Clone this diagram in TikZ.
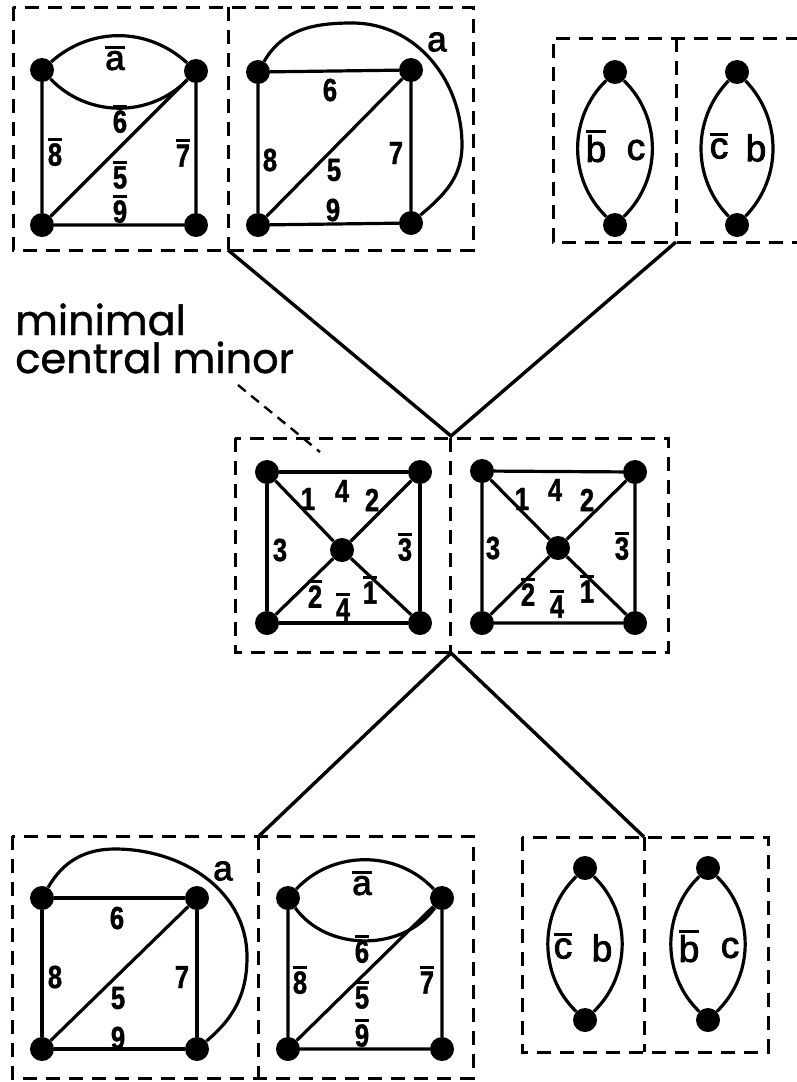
\documentclass[tikz,border=0pt]{standalone}
\usepackage{fontspec}
\setmainfont{Liberation Sans}
\newfontfamily\numfont{Liberation Sans Bold}[FakeStretch=0.8,FakeBold=1.2]
\newfontfamily\ltrfont{Liberation Sans}[FakeBold=2.5]
\newfontfamily\notefont{Poppins}[FakeBold=1]
% a label with a bar over it
\def\ob#1{\leavevmode\vbox{\hrule height 2.8pt\kern 2.4pt\hbox{#1}}}
\tikzset{
  dot/.style={circle,fill=black,inner sep=0pt,minimum size=24pt},
  edge/.style={line width=3.2pt},
  grp/.style={line width=3pt,dash pattern=on 14pt off 9pt},
  link/.style={line width=3.4pt},
  num/.style={font=\numfont\fontsize{32}{32}\selectfont,inner sep=0pt},
  ltr/.style={font=\ltrfont\fontsize{37}{37}\selectfont,inner sep=0pt},
  smltr/.style={font=\ltrfont\fontsize{35}{35}\selectfont,inner sep=0pt},
  note/.style={font=\notefont\fontsize{41.5}{41.5}\selectfont,inner sep=0pt,anchor=base west},
}
\begin{document}
\begin{tikzpicture}[x=1pt,y=-1pt]
\useasboundingbox (0,0) rectangle (796,1082);

% ---------- group boxes ----------
\draw[grp] (13,7) rectangle (473,250);
\draw[grp] (228,7) -- (228,250);
\draw[grp] (800,38) -- (553,38) -- (553,242) -- (800,242);
\draw[grp] (676,38) -- (676,242);
\draw[grp] (235,438) rectangle (668,652);
\draw[grp] (450,438) -- (450,652);
\draw[grp] (12,836) rectangle (473,1078);
\draw[grp] (258,836) -- (258,1078);
\draw[grp] (522,837) rectangle (768,1052);
\draw[grp] (644,837) -- (644,1052);

% ---------- tree connectors ----------
\coordinate (topL) at (228,250);
\coordinate (topR) at (676,242);
\coordinate (midT) at (451,436);
\coordinate (midB) at (451,653);
\coordinate (botL) at (259,836);
\coordinate (botR) at (644,837);
\draw[link,line join=miter] (topL) -- (midT) -- (topR);
\draw[link,line join=miter] (botL) -- (midB) -- (botR);

% ---------- note ----------
\node[note] (n1) at (15,335) {minimal};
\node[note] (n2) at (15,373) {central minor};
\coordinate (ptrA) at (238,385);
\coordinate (ptrB) at (320,452);
\draw[line width=2.4pt,dash pattern=on 10pt off 7pt] (ptrA) -- (ptrB);

% ---------- top row, graph A ----------
\node[dot] (a1) at (42,70) {};
\node[dot] (a2) at (196,71) {};
\node[dot] (a3) at (42,225) {};
\node[dot] (a4) at (196,225) {};
\draw[edge] (a1) to[bend left=42] (a2);
\draw[edge] (a1) to[bend right=46] (a2);
\draw[edge] (a1) -- (a3) -- (a4) -- (a2) -- (a3);
\node[smltr] (la1) at (115,58) {\ob{a}};
\node[num] (la2) at (120,119) {\ob{6}};
\node[num] (la3) at (55,152) {\ob{8}};
\node[num] (la4) at (120,175) {\ob{5}};
\node[num] (la5) at (120,209) {\ob{9}};
\node[num] (la6) at (183,153) {\ob{7}};

% ---------- top row, graph B ----------
\node[dot] (b1) at (258,72) {};
\node[dot] (b2) at (411,70) {};
\node[dot] (b3) at (258,225) {};
\node[dot] (b4) at (411,223) {};
\coordinate (bt) at (352,23);
\coordinate (br) at (462,145);
\draw[edge] (b1) -- (b2) -- (b4) -- (b3) -- (b1);
\draw[edge] (b3) -- (b2);
\draw[edge] (b1) to[out=60,in=180] (bt) to[out=0,in=90] (br) to[out=-90,in=40] (b4);
\node[smltr] (lb1) at (437,42) {a};
\node[num] (lb2) at (330,90) {6};
\node[num] (lb3) at (270,160) {8};
\node[num] (lb4) at (334,170) {5};
\node[num] (lb5) at (396,153) {7};
\node[num] (lb6) at (333,210) {9};

% ---------- top row, lenses ----------
\node[dot] (c1) at (615,72) {};
\node[dot] (c2) at (615,225) {};
\draw[edge] (c1) to[bend right=46] (c2);
\draw[edge] (c1) to[bend left=46] (c2);
\node[ltr] (lc1) at (596,146) {\ob{b}};
\node[ltr] (lc2) at (636,150) {c};
\node[dot] (d1) at (737,72) {};
\node[dot] (d2) at (737,225) {};
\draw[edge] (d1) to[bend right=44] (d2);
\draw[edge] (d1) to[bend left=44] (d2);
\node[ltr] (ld1) at (719,146) {\ob{c}};
\node[ltr] (ld2) at (756,148) {b};

% ---------- middle, left wheel ----------
\node[dot] (e1) at (267,472) {};
\node[dot] (e2) at (420,472) {};
\node[dot] (e3) at (267,623) {};
\node[dot] (e4) at (420,623) {};
\node[dot] (ec) at (342,550) {};
\draw[edge] (e1) -- (e2) -- (e4) -- (e3) -- (e1);
\draw[edge] (e1) -- (ec) -- (e4);
\draw[edge] (e2) -- (ec) -- (e3);
\node[num] (le1) at (308,499) {1};
\node[num] (le2) at (342,491) {4};
\node[num] (le3) at (372,500) {2};
\node[num] (le4) at (280,550) {3};
\node[num] (le5) at (405,547) {\ob{3}};
\node[num] (le6) at (315,594) {\ob{2}};
\node[num] (le7) at (343,607) {\ob{4}};
\node[num] (le8) at (370,590) {\ob{1}};

% ---------- middle, right wheel ----------
\node[dot] (f1) at (482,471) {};
\node[dot] (f2) at (635,472) {};
\node[dot] (f3) at (482,623) {};
\node[dot] (f4) at (635,623) {};
\node[dot] (fc) at (558,548) {};
\draw[edge] (f1) -- (f2) -- (f4) -- (f3) -- (f1);
\draw[edge] (f1) -- (fc) -- (f4);
\draw[edge] (f2) -- (fc) -- (f3);
\node[num] (lf1) at (522,499) {1};
\node[num] (lf2) at (555,490) {4};
\node[num] (lf3) at (587,500) {2};
\node[num] (lf4) at (493,548) {3};
\node[num] (lf5) at (622,546) {\ob{3}};
\node[num] (lf6) at (528,592) {\ob{2}};
\node[num] (lf7) at (557,604) {\ob{4}};
\node[num] (lf8) at (587,589) {\ob{1}};

% ---------- bottom row, graph B ----------
\node[dot] (g1) at (42,898) {};
\node[dot] (g2) at (197,898) {};
\node[dot] (g3) at (42,1049) {};
\node[dot] (g4) at (197,1049) {};
\coordinate (gt) at (115,849);
\coordinate (gr) at (247,957);
\draw[edge] (g1) -- (g2) -- (g4) -- (g3) -- (g1);
\draw[edge] (g3) -- (g2);
\draw[edge] (g1) to[out=60,in=180] (gt) to[out=0,in=90] (gr) to[out=-90,in=40] (g4);
\node[smltr] (lg1) at (223,871) {a};
\node[num] (lg2) at (117,918) {6};
\node[num] (lg3) at (55,977) {8};
\node[num] (lg4) at (118,998) {5};
\node[num] (lg5) at (182,977) {7};
\node[num] (lg6) at (118,1038) {9};

% ---------- bottom row, graph A ----------
\node[dot] (h1) at (288,898) {};
\node[dot] (h2) at (442,898) {};
\node[dot] (h3) at (288,1049) {};
\node[dot] (h4) at (442,1049) {};
\draw[edge] (h1) to[bend left=47] (h2);
\draw[edge] (h1) to[bend right=54] (h2);
\draw[edge] (h1) -- (h3) -- (h4) -- (h2) -- (h3);
\node[smltr] (lh1) at (362,883) {\ob{a}};
\node[num] (lh2) at (362,949) {\ob{6}};
\node[num] (lh3) at (300,980) {\ob{8}};
\node[num] (lh4) at (362,995) {\ob{5}};
\node[num] (lh5) at (362,1033) {\ob{9}};
\node[num] (lh6) at (427,980) {\ob{7}};

% ---------- bottom row, lenses ----------
\node[dot] (k1) at (585,868) {};
\node[dot] (k2) at (585,1020) {};
\draw[edge] (k1) to[bend right=46] (k2);
\draw[edge] (k1) to[bend left=46] (k2);
\node[ltr] (lk1) at (563,946) {\ob{c}};
\node[ltr] (lk2) at (602,948) {b};
\node[dot] (m1) at (708,868) {};
\node[dot] (m2) at (708,1020) {};
\draw[edge] (m1) to[bend right=46] (m2);
\draw[edge] (m1) to[bend left=46] (m2);
\node[ltr] (lm1) at (689,946) {\ob{b}};
\node[ltr] (lm2) at (730,948) {c};
\end{tikzpicture}
\end{document}
